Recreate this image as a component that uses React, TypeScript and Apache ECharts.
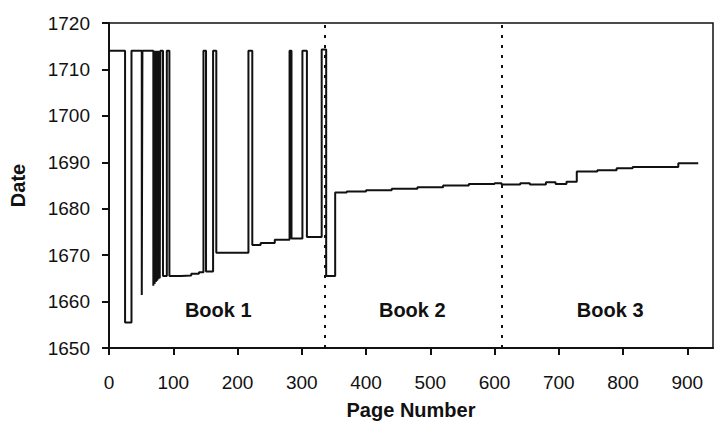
import React, { useEffect, useRef } from "react";
import * as echarts from "echarts";

// Step series: date held from each page until the next page
const pages = [
  1, 25, 35, 51, 52, 69, 70, 71, 72, 73, 74, 75, 76, 77, 78, 79, 80, 84, 90, 94,
  112, 128, 140, 147, 151, 162, 167, 217, 223, 236, 258, 281, 284, 301, 308, 331,
  338, 352, 370, 400, 440, 480, 520, 560, 600, 611, 640, 655, 680, 695, 712, 728,
  760, 790, 815, 886, 917,
];
const dates = [
  1714, 1655.5, 1714, 1661.4, 1714, 1663.4, 1714, 1663.8, 1714, 1664.2, 1714, 1664.5,
  1714, 1664.8, 1714, 1665, 1714, 1665.5, 1714, 1665.5, 1665.6, 1666, 1666.3, 1714,
  1666.5, 1714, 1670.5, 1714, 1672.2, 1672.6, 1673.3, 1714, 1673.6, 1714, 1673.9,
  1714.3, 1665.5, 1683.5, 1683.7, 1684, 1684.3, 1684.6, 1685, 1685.3, 1685.5, 1685.2,
  1685.5, 1685.2, 1685.7, 1685.3, 1685.8, 1688, 1688.3, 1688.7, 1689, 1689.8, 1689.8,
];

const bookBreaks = [336, 611];
const bookNames = ["Book 1", "Book 2", "Book 3"];
const bookLabelPages = [170, 472, 780];
const bookLabelDate = 1658.2;

const xTicks = [0, 100, 200, 300, 400, 500, 600, 700, 800, 900];

export default function App() {
  const ref = useRef<HTMLDivElement>(null);
  useEffect(() => {
    if (!ref.current) return;
    const chart = echarts.init(ref.current, null, { renderer: "svg" });
    const font = "'Liberation Sans', Arial, sans-serif";
    const ink = "#111";
    chart.setOption({
      animation: false,
      backgroundColor: "#fff",
      grid: {
        left: 109,
        top: 23,
        width: 604,
        height: 325,
        show: true,
        borderColor: ink,
        borderWidth: 1.5,
        backgroundColor: "transparent",
      },
      xAxis: {
        type: "value",
        min: 0,
        max: 940,
        interval: 100,
        name: "Page Number",
        nameLocation: "middle",
        nameGap: 52,
        nameTextStyle: { fontFamily: font, fontSize: 20, fontWeight: "bold", color: ink },
        axisLine: { onZero: false, lineStyle: { color: ink, width: 2 } },
        axisTick: { show: true, length: 7, lineStyle: { color: ink, width: 2 }, customValues: xTicks },
        axisLabel: { fontFamily: font, fontSize: 19, color: ink, margin: 25, customValues: xTicks },
        splitLine: { show: false },
      },
      yAxis: {
        type: "value",
        min: 1650,
        max: 1720,
        interval: 10,
        name: "Date",
        nameLocation: "middle",
        nameGap: 81,
        nameRotate: 90,
        nameTextStyle: { fontFamily: font, fontSize: 20, fontWeight: "bold", color: ink },
        axisLine: { show: true, lineStyle: { color: ink, width: 2 } },
        axisTick: { show: true, length: 7, lineStyle: { color: ink, width: 2 } },
        axisLabel: {
          fontFamily: font,
          fontSize: 19,
          color: ink,
          margin: 19,
          formatter: (v: number) => String(v),
        },
        splitLine: { show: false },
      },
      series: [
        {
          type: "line",
          step: "end",
          data: pages.map((p, i) => [p, dates[i]]),
          symbol: "none",
          lineStyle: { color: ink, width: 2 },
          markLine: {
            silent: true,
            symbol: "none",
            label: { show: false },
            lineStyle: { color: ink, width: 2, type: [3, 7] },
            data: bookBreaks.map((b) => ({ xAxis: b })),
          },
        },
        {
          type: "scatter",
          symbolSize: 1,
          itemStyle: { opacity: 1, color: "rgba(0,0,0,0)" },
          data: bookLabelPages.map((p, i) => ({ value: [p, bookLabelDate], name: bookNames[i] })),
          label: {
            show: true,
            position: "inside",
            formatter: (d: any) => d.name,
            fontFamily: font,
            fontSize: 20,
            fontWeight: "bold",
            color: ink,
            opacity: 1,
          },
        },
      ],
    });
    return () => chart.dispose();
  }, []);
  return (
    <div
      ref={ref}
      style={{ position: "fixed", left: 0, top: 0, width: 720, height: 431 }}
    />
  );
}
